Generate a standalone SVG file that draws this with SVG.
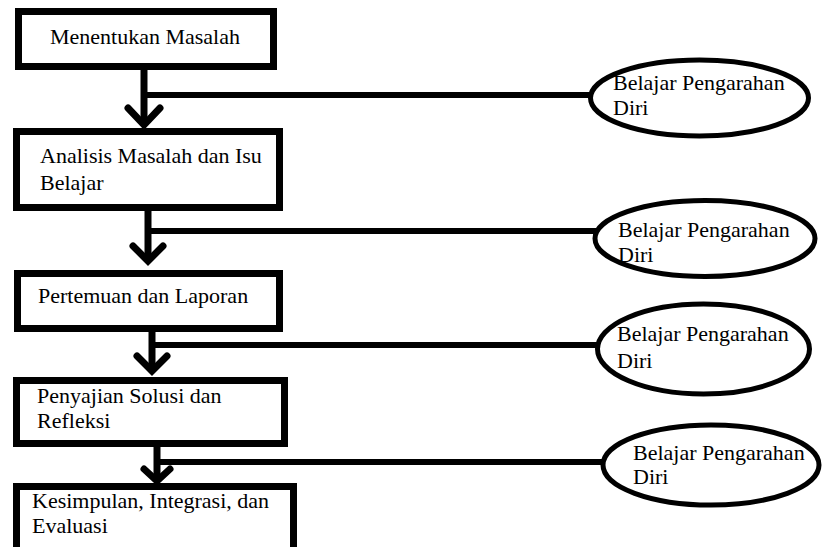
<svg xmlns="http://www.w3.org/2000/svg" width="825" height="547" viewBox="0 0 825 547">
<style>
.box{fill:#fff;stroke:#000;stroke-width:7}
.ell{fill:#fff;stroke:#000;stroke-width:5}
.ln{fill:none;stroke:#000;stroke-width:7}
.hl{fill:none;stroke:#000;stroke-width:6}
.ah{fill:none;stroke:#000;stroke-width:7;stroke-linecap:round;stroke-linejoin:miter}
text{font-family:"Liberation Serif","Times New Roman",serif;font-size:22px;fill:#000}
</style>
<rect width="825" height="547" fill="#fff"/>
<g id="connectors">
<line class="ln" x1="144" y1="70" x2="144" y2="124"/>
<line class="hl" x1="144" y1="95" x2="592" y2="95"/>
<polyline class="ah" points="128,108 144,125 160,108"/>
<line class="ln" x1="148" y1="211" x2="148" y2="260"/>
<line class="hl" x1="148" y1="231" x2="596" y2="231"/>
<polyline class="ah" points="133,246 148,261 163,246"/>
<line class="ln" x1="152" y1="332" x2="152" y2="370"/>
<line class="hl" x1="152" y1="345" x2="599" y2="345"/>
<polyline class="ah" points="137,356 152,371 167,356"/>
<line class="ln" x1="157" y1="447" x2="157" y2="480"/>
<line class="hl" x1="157" y1="462" x2="604" y2="462"/>
<polyline class="ah" points="144,469 157,481 170,469"/>
</g>
<g id="n1"><rect class="box" x="18.5" y="11.5" width="255" height="55"/><text x="50" y="44">Menentukan Masalah</text></g>
<g id="n2"><rect class="box" x="16.5" y="131.5" width="263" height="76"/><text x="40" y="163">Analisis Masalah dan Isu</text><text x="40" y="190">Belajar</text></g>
<g id="n3"><rect class="box" x="17.5" y="273.5" width="262" height="55"/><text x="38" y="303">Pertemuan dan Laporan</text></g>
<g id="n4"><rect class="box" x="16.5" y="380.5" width="268" height="63"/><text x="37" y="403">Penyajian Solusi dan</text><text x="37" y="428">Refleksi</text></g>
<g id="n5"><rect class="box" x="16.5" y="486.5" width="277" height="80"/><text x="32" y="508">Kesimpulan, Integrasi, dan</text><text x="32" y="533">Evaluasi</text></g>
<g id="e1"><ellipse class="ell" cx="699.5" cy="98" rx="109" ry="38"/><text x="613" y="90">Belajar Pengarahan</text><text x="613" y="115">Diri</text></g>
<g id="e2"><ellipse class="ell" cx="705" cy="238.5" rx="110" ry="38"/><text x="618" y="237">Belajar Pengarahan</text><text x="618" y="262">Diri</text></g>
<g id="e3"><ellipse class="ell" cx="703.5" cy="349" rx="106" ry="45"/><text x="617" y="341">Belajar Pengarahan</text><text x="617" y="368">Diri</text></g>
<g id="e4"><ellipse class="ell" cx="711" cy="465" rx="108" ry="40"/><text x="633" y="460">Belajar Pengarahan</text><text x="633" y="484">Diri</text></g>
</svg>
